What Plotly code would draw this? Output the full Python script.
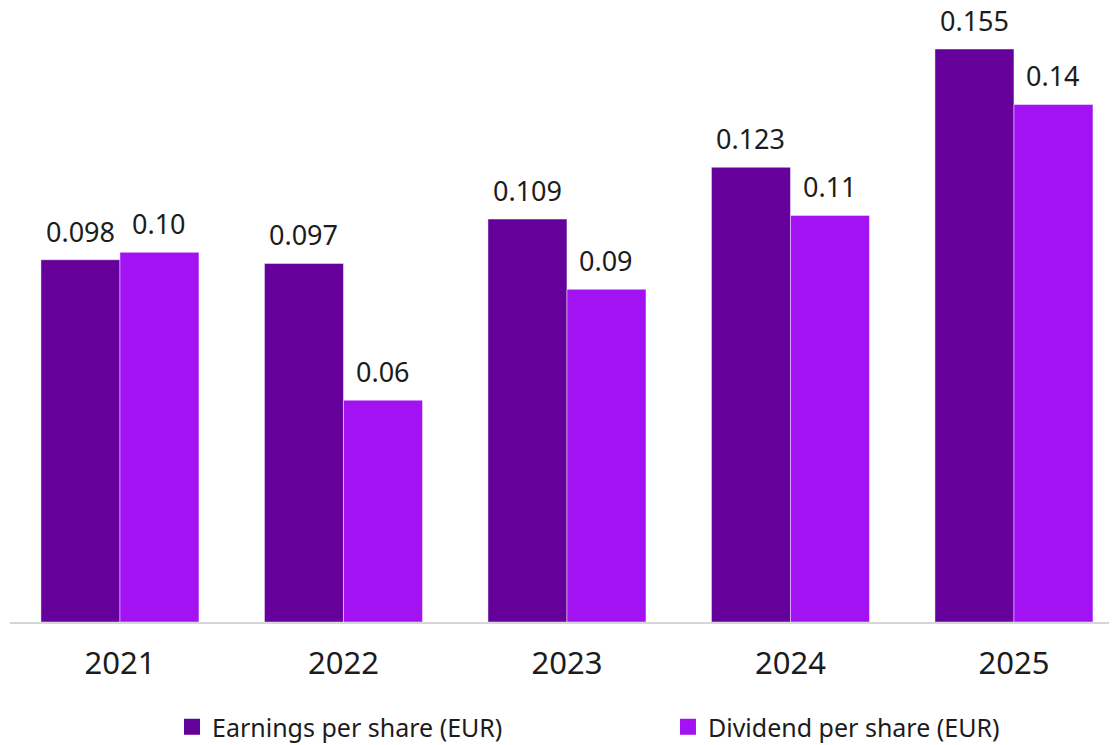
import plotly.graph_objects as go

years = ["2021", "2022", "2023", "2024", "2025"]
eps = [0.098, 0.097, 0.109, 0.123, 0.155]
dps = [0.10, 0.06, 0.09, 0.11, 0.14]
eps_labels = ["0.098", "0.097", "0.109", "0.123", "0.155"]
dps_labels = ["0.10", "0.06", "0.09", "0.11", "0.14"]
series_names = ["Earnings per share (EUR)", "Dividend per share (EUR)"]

c_eps = "#65009A"
c_dps = "#A212F2"
font = "Noto Sans"
txt = "#1c1c1c"

fig = go.Figure()
fig.add_trace(go.Bar(x=years, y=eps, name=series_names[0], marker_color=c_eps,
                     marker_line=dict(color="rgba(255,255,255,0.45)", width=1),
                     showlegend=False))
fig.add_trace(go.Bar(x=years, y=dps, name=series_names[1], marker_color=c_dps,
                     marker_line=dict(color="rgba(255,255,255,0.45)", width=1),
                     showlegend=False))
# legend entries (one legend each, to control spacing)
for nm, col, lg in zip(series_names, [c_eps, c_dps], ["legend", "legend2"]):
    fig.add_trace(go.Scatter(x=[None], y=[None], mode="markers", name=nm, legend=lg,
                             marker=dict(symbol="square", size=16, color=col)))

# value labels
for i, y in enumerate(years):
    fig.add_annotation(x=i, y=eps[i], xref="x", yref="y", text=eps_labels[i], showarrow=False,
                       xshift=-39.5, yshift=8, yanchor="bottom",
                       font=dict(size=27, color=txt, family=font))
    fig.add_annotation(x=i, y=dps[i], xref="x", yref="y", text=dps_labels[i], showarrow=False,
                       xshift=39.5, yshift=8, yanchor="bottom",
                       font=dict(size=27, color=txt, family=font))

leg_common = dict(orientation="h", yref="container", xref="container",
                  y=0.0244, yanchor="middle",
                  font=dict(size=25, color=txt, family=font),
                  bgcolor="rgba(0,0,0,0)")
fig.update_layout(
    width=1109, height=737,
    margin=dict(l=2, r=0, t=0, b=123, autoexpand=False),
    paper_bgcolor="white", plot_bgcolor="white",
    barmode="group", bargap=0.293, bargroupgap=0,
    font=dict(family=font, color=txt),
    showlegend=True,
    legend=dict(x=0.1479, xanchor="left", **leg_common),
    legend2=dict(x=0.5951, xanchor="left", **leg_common),
    xaxis=dict(type="category", range=[-0.492, 4.461], showgrid=False,
               showline=True, linecolor="#d6d6d6", linewidth=2,
               ticks="", tickfont=dict(size=31, color=txt, family=font),
               ticklabelstandoff=13),
    yaxis=dict(range=[0, 0.1661], visible=False, showgrid=False, zeroline=False),
)
fig.write_html("out.html")
